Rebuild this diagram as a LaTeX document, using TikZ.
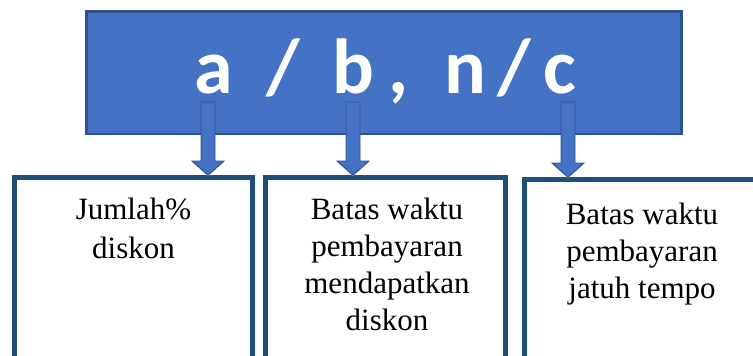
\documentclass[tikz,border=0pt]{standalone}
\usepackage{fontspec}
\setmainfont{Liberation Serif}
\newfontfamily\headfont{Carlito}
\usetikzlibrary{calc}

\definecolor{headfill}{HTML}{4472C4}
\definecolor{headline}{HTML}{2F528F}
\definecolor{boxline}{HTML}{1F4E79}

\tikzset{
  headbox/.style={draw=headline, line width=2.5pt, fill=headfill,
    minimum width=595pt, minimum height=122.5pt, inner sep=0pt},
  infobox/.style={draw=boxline, line width=5pt, fill=white,
    minimum height=200pt, inner sep=0pt},
  infotext/.style={anchor=north, align=center, inner sep=0pt,
    font=\fontsize{31}{37}\selectfont},
  blk/.style={draw=headline, line width=0.9pt, fill=headfill, line join=miter},
}

% downward block arrow from #1 (top of shaft) to #2 (tip)
\newcommand\downblock[2]{%
  \fill[black!35, opacity=0.6] ($(#2)+(-15,-12)$) -- ($(#2)+(0,1.5)$) -- ($(#2)+(15,-12)$) -- cycle;
  \draw[blk] ($(#1)+(-7,0)$) -- ($(#2)+(-7,-14)$) -- ($(#2)+(-16,-14)$) -- (#2)
    -- ($(#2)+(16,-14)$) -- ($(#2)+(7,-14)$) -- ($(#1)+(7,0)$) -- cycle;}

\begin{document}
\begin{tikzpicture}[x=1pt, y=-1pt]
  \useasboundingbox (0,0) rectangle (753,356);
  \clip (0,0) rectangle (753,356);

  % formula banner
  \node[headbox] (head) at (384,72.5) {};
  \node[anchor=base, text=white, inner sep=0pt,
        font=\headfont\bfseries\fontsize{78}{78}\selectfont] (formula) at (385,93)
        {a\kern34pt/\kern32pt b\kern15pt,\kern35pt n\kern12pt/\kern12pt c};

  % explanation boxes
  \node[infobox, minimum width=238pt] (jumlah) at (133.5,277.5) {};
  \node[infobox, minimum width=240pt] (diskon) at (385.5,277.5) {};
  \node[infobox, minimum width=400pt] (tempo)  at (724.5,279.5) {};

  \node[infotext, font=\fontsize{31}{39}\selectfont] (tjumlah) at (133.5,198) {Jumlah\%\\diskon};
  \node[infotext] (tdiskon) at (387,198) {Batas waktu\\pembayaran\\mendapatkan\\diskon};
  \node[infotext] (ttempo)  at (642,203) {Batas waktu\\pembayaran\\jatuh tempo};

  % arrows from the formula terms down to the boxes
  \coordinate (sa) at (208,102);
  \coordinate (sb) at (353,102);
  \coordinate (sc) at (568,102);
  \downblock{sa}{sa |- jumlah.north}
  \downblock{sb}{sb |- diskon.north}
  \downblock{sc}{sc |- tempo.north}
\end{tikzpicture}
\end{document}
